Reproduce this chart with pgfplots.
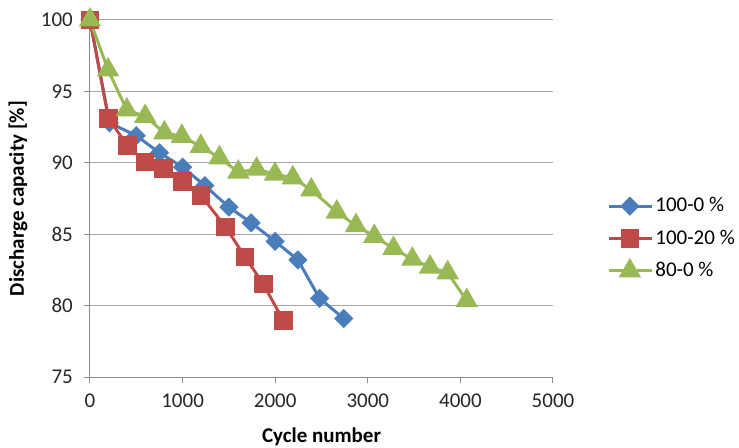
\documentclass[border=0pt]{standalone}
\usepackage{fontspec}
\setmainfont{Carlito}
\usepackage{pgfplots}
\pgfplotsset{compat=1.18}
\definecolor{sblue}{HTML}{4A7EBB}
\definecolor{sred}{HTML}{BE4B48}
\definecolor{sgreen}{HTML}{98B954}
\definecolor{gridgray}{HTML}{A6A6A6}
\definecolor{axisgray}{HTML}{8C8C8C}
\begin{document}
\fontsize{21bp}{25bp}\selectfont
\begin{tikzpicture}
\useasboundingbox (-90bp,-71bp) rectangle (649bp,377bp);
\begin{axis}[
  at={(0,0)}, anchor=south west,
  scale only axis, width=463bp, height=357bp,
  xmin=0, xmax=5000, ymin=75, ymax=100,
  xtick={0,1000,2000,3000,4000,5000},
  ytick={75,80,85,90,95,100},
  axis x line*=bottom, axis y line*=left,
  axis line style={draw=axisgray, line width=1bp},
  tick align=outside,
  major tick length=6bp,
  tick style={draw=axisgray, line width=1bp},
  ymajorgrids, grid style={draw=gridgray, line width=1bp},
  /pgf/number format/assume math mode=true,
  /pgf/number format/set thousands separator={},
  scaled ticks=false,
  ticklabel style={font=\fontsize{21bp}{25bp}\selectfont, text=black!85},
  x tick label style={yshift=-4bp},
  y tick label style={xshift=-4bp},
  xlabel={\textbf{Cycle number}},
  ylabel={\textbf{Discharge capacity [\%]}},
  label style={font=\fontsize{21bp}{25bp}\selectfont, text=black},
  xlabel style={at={(rel axis cs:0.5,0)}, anchor=center, yshift=-60bp},
  ylabel style={at={(rel axis cs:0,0.5)}, anchor=center, rotate=0, yshift=72bp},
  legend style={at={(1.117,0.388)}, anchor=west, draw=none, fill=none,
    font=\fontsize{21bp}{25bp}\selectfont, inner xsep=0pt,
    row sep=11bp, nodes={inner xsep=2bp}},
  legend cell align=left,
  legend image code/.code={
    \draw[mark repeat=2, mark phase=2] plot coordinates {(0bp,0bp) (21bp,0bp) (43bp,0bp)};
  },
  every axis plot/.append style={line width=3bp},
  clip=false,
]
\addplot[color=sblue, mark=square*, mark size=5.3bp, mark options={rotate=45, solid}] coordinates {
(0,100) (210,92.8) (500,91.9) (750,90.7) (1000,89.7) (1240,88.4) (1500,86.9)
(1740,85.8) (2000,84.5) (2245,83.2) (2480,80.5) (2740,79.1)
};
\addlegendentry{100-0 \%}
\addplot[color=sred, mark=square*, mark size=7.8bp, mark options={solid}] coordinates {
(0,100) (200,93.1) (405,91.2) (595,90.05) (795,89.6) (997,88.7) (1200,87.7)
(1465,85.5) (1675,83.4) (1872,81.5) (2088,78.95)
};
\addlegendentry{100-20 \%}
\addplot[color=sgreen, mark=triangle*, mark size=10bp, mark options={solid}] coordinates {
(0,100) (195,96.5) (398,93.7) (596,93.25) (803,92.1) (992,91.85) (1196,91.15)
(1398,90.35) (1602,89.35) (1800,89.55) (1998,89.2) (2190,88.95) (2390,88.1)
(2665,86.55) (2873,85.6) (3070,84.85) (3277,84.0) (3481,83.25) (3672,82.7)
(3863,82.3) (4068,80.35)
};
\addlegendentry{80-0 \%}
\end{axis}
\end{tikzpicture}
\end{document}
